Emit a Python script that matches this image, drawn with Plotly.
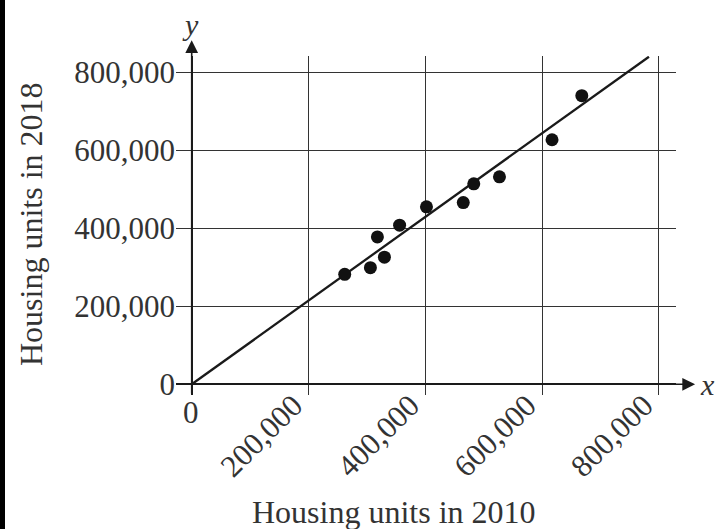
import plotly.graph_objects as go

# Data
units_2010 = [262000, 306000, 318000, 330000, 356000, 402000, 465000, 483000, 527000, 617000, 668000]
units_2018 = [282000, 299000, 378000, 326000, 408000, 455000, 466000, 514000, 532000, 627000, 740000]
line_x = [0, 783000]
line_y = [0, 840000]

x_ticks = [200000, 400000, 600000, 800000]
x_tick_text = ["200,000", "400,000", "600,000", "800,000"]
y_ticks = [0, 200000, 400000, 600000, 800000]
y_tick_text = ["0", "200,000", "400,000", "600,000", "800,000"]

FONT = "Liberation Serif"
INK = "#1a1a1a"
TXT = "#333333"
W, H = 724, 529
L, R, T, B = 176, 48, 56, 134
PW, PH = W - L - R, H - T - B

fig = go.Figure()
fig.add_trace(go.Scatter(x=line_x, y=line_y, mode="lines",
                         line=dict(color=INK, width=2.3), cliponaxis=False,
                         hoverinfo="skip", showlegend=False))
fig.add_trace(go.Scatter(x=units_2010, y=units_2018, mode="markers",
                         marker=dict(color="#111111", size=13),
                         showlegend=False))

fig.update_layout(
    width=W, height=H,
    margin=dict(l=L, r=R, t=T, b=B),
    paper_bgcolor="white", plot_bgcolor="white",
    font=dict(family=FONT, size=30, color=TXT),
    xaxis=dict(range=[-26884, 829281], tickvals=x_ticks, ticktext=x_tick_text,
               tickangle=-45, showgrid=True, gridcolor="#333333", gridwidth=1.3,
               zeroline=True, zerolinecolor=INK, zerolinewidth=1.6,
               showline=False, ticks="", ticklabelshift=-15, ticklabelstandoff=-15,
               tickfont=dict(family=FONT, size=31, color=TXT),
               fixedrange=True),
    yaxis=dict(range=[-27436, 841795], tickvals=y_ticks, ticktext=y_tick_text,
               showgrid=True, gridcolor="#333333", gridwidth=1.3,
               zeroline=True, zerolinecolor=INK, zerolinewidth=1.6,
               showline=False, ticks="", tickfont=dict(family=FONT, size=31, color=TXT),
               fixedrange=True),
)

# axis arrows
fig.add_annotation(x=0, y=882000, xref="x", yref="y", ax=0, ay=-27436,
                   axref="x", ayref="y", showarrow=True, arrowhead=2,
                   arrowsize=1.6, arrowwidth=1.6, arrowcolor=INK, text="")
fig.add_annotation(x=862000, y=0, xref="x", yref="y", ax=-26884, ay=0,
                   axref="x", ayref="y", showarrow=True, arrowhead=2,
                   arrowsize=1.6, arrowwidth=1.6, arrowcolor=INK, text="")


def px_note(px, py, text, size=30, angle=0):
    """Place text centred on a pixel position of the figure."""
    fig.add_annotation(x=(px - L) / PW, y=(H - B - py) / PH, xref="paper", yref="paper",
                       xanchor="center", yanchor="middle", showarrow=False,
                       textangle=angle, text=text,
                       font=dict(family=FONT, size=size, color=TXT))


px_note(190, 25, "<i>y</i>")
px_note(707, 384, "<i>x</i>")
px_note(191, 412, "0", size=31)
px_note(394, 512, "Housing units in 2010", size=32)
px_note(31, 224, "Housing units in 2018", size=32, angle=-90)

# scan edge on the left
fig.add_shape(type="rect", xref="paper", yref="paper",
              x0=-L / PW, x1=(5 - L) / PW, y0=-B / PH, y1=(PH + T) / PH,
              fillcolor="black", line=dict(width=0), layer="above")

fig.write_html("out.html", config={"displayModeBar": False},
               post_script="document.body.style.margin='0';")
